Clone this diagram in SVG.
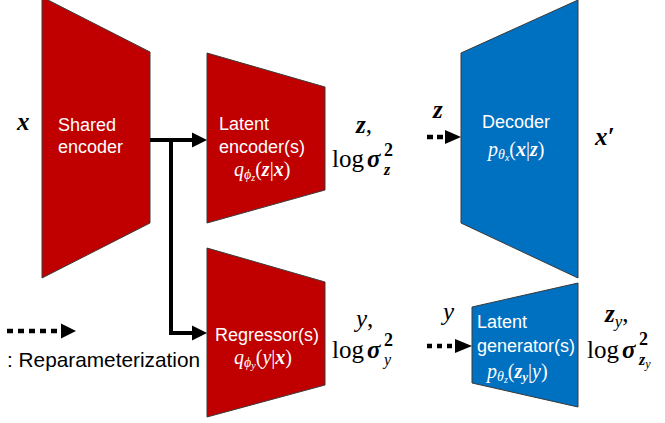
<svg xmlns="http://www.w3.org/2000/svg" width="665" height="423" viewBox="0 0 665 423">
<style>
.red{fill:#C00000;stroke:#3a3a3a;stroke-width:1}
.blue{fill:#0070C0;stroke:#3a3a3a;stroke-width:1}
.lab{font-family:"Liberation Sans",Arial,sans-serif;font-size:18px;fill:#fff}
.mw{font-family:"Liberation Serif","Times New Roman",serif;font-size:20px;fill:#fff}
.m{font-family:"Liberation Serif","Times New Roman",serif;font-size:25px;fill:#000}
.sup{font-size:18px;font-weight:bold}
.sub{font-size:16px}
.bi{font-weight:bold;font-style:italic}
.b{font-weight:bold}
.it{font-style:italic}
.solid{fill:none;stroke:#000;stroke-width:4;stroke-linejoin:miter}
.dot{fill:none;stroke:#000;stroke-width:4.5}
.leg{font-family:"Liberation Sans",Arial,sans-serif;font-size:20.8px;fill:#000}
</style>
<g id="shared-encoder">
<polygon class="red" points="42,-3 150,52 150,223 42,278"/>
<text class="lab" x="58" y="131">Shared</text>
<text class="lab" x="58" y="153">encoder</text>
</g>
<g id="latent-encoder">
<polygon class="red" points="207,53 325,87 325,190 207,223"/>
<text class="lab" x="219" y="130">Latent</text>
<text class="lab" x="219" y="153">encoder(s)</text>
<text class="mw" x="234" y="176"><tspan class="it">q</tspan><tspan class="it" font-size="14" dy="3">ϕ</tspan><tspan class="it" font-size="10" dy="2">z</tspan><tspan dy="-5">(</tspan><tspan class="bi">z</tspan>|<tspan class="bi">x</tspan>)</text>
</g>
<g id="regressor">
<polygon class="red" points="207,248 325,282 325,385 207,417"/>
<text class="lab" x="215" y="341">Regressor(s)</text>
<text class="mw" x="234" y="364"><tspan class="it">q</tspan><tspan class="it" font-size="14" dy="3">ϕ</tspan><tspan class="it" font-size="10" dy="2">y</tspan><tspan dy="-5">(</tspan><tspan class="it">y</tspan>|<tspan class="bi">x</tspan>)</text>
</g>
<g id="decoder">
<polygon class="blue" points="461,53 578,0 578,278 461,223"/>
<text class="lab" x="482" y="128" font-size="20">Decoder</text>
<text class="mw" x="488" y="156" font-size="21"><tspan class="it">p</tspan><tspan class="it" font-size="14" dy="3">θ</tspan><tspan class="it" font-size="10" dy="2">x</tspan><tspan dy="-5">(</tspan><tspan class="bi">x</tspan>|<tspan class="bi">z</tspan>)</text>
</g>
<g id="latent-generator">
<polygon class="blue" points="472,307 578,283 578,407 472,383"/>
<text class="lab" x="477" y="328">Latent</text>
<text class="lab" x="477" y="352">generator(s)</text>
<text class="mw" x="487" y="378"><tspan class="it">p</tspan><tspan class="it" font-size="14" dy="3">θ</tspan><tspan class="it" font-size="10" dy="2">z</tspan><tspan dy="-5">(</tspan><tspan class="bi">z</tspan><tspan class="bi" font-size="13" dy="3">y</tspan><tspan dy="-3">|</tspan><tspan class="it">y</tspan>)</text>
</g>
<g id="labels">
<text class="m bi" x="17" y="130" font-size="26">x</text>
<text class="m" x="356" y="133"><tspan class="bi">z</tspan>,</text>
<text class="m" x="332" y="167">log</text>
<text class="m bi" x="367" y="167">σ</text>
<text class="m sup" x="384" y="156">2</text>
<text class="m bi sub" x="384" y="175">z</text>
<text class="m" x="356" y="327"><tspan class="it">y</tspan>,</text>
<text class="m" x="332" y="358">log</text>
<text class="m bi" x="367" y="358">σ</text>
<text class="m sup" x="384" y="346">2</text>
<text class="m it sub" x="384" y="365">y</text>
<text class="m bi" x="433" y="118">z</text>
<text class="m bi" x="595" y="145" font-size="26">x′</text>
<text class="m it" x="443" y="320">y</text>
<text class="m" x="605" y="322"><tspan class="bi">z</tspan><tspan class="it" font-size="17" dy="5">y</tspan><tspan dy="-5">,</tspan></text>
<text class="m" x="587" y="358">log</text>
<text class="m bi" x="622" y="358">σ</text>
<text class="m sup" x="639" y="345">2</text>
<text class="m sub" x="639" y="365"><tspan class="bi">z</tspan><tspan class="it" font-size="12" dy="3">y</tspan></text>
</g>
<g id="connectors">
<path class="solid" d="M150,140 H193"/>
<polygon points="192,132.5 207,140 192,147.5"/>
<path class="solid" d="M171,140 V333 H193"/>
<polygon points="192,325.5 207,333 192,340.5"/>
<path class="dot" d="M427,137 H443" stroke-dasharray="6 4"/>
<polygon points="445,130 461,137 445,144"/>
<path class="dot" d="M427,346 H452" stroke-dasharray="5 5"/>
<polygon points="455,339 472,346 455,353"/>
</g>
<g id="legend">
<path class="dot" d="M7,331 H57" stroke-dasharray="6 5"/>
<polygon points="61,323.5 76,331 61,338.5"/>
<text class="leg" x="7" y="367">: Reparameterization</text>
</g>
</svg>
